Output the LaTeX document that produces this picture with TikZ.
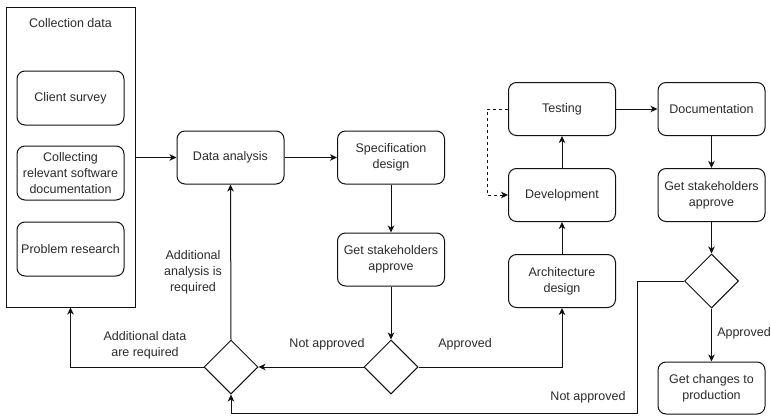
\documentclass[tikz,border=0pt]{standalone}
\usepackage{fontspec}
\setmainfont{Liberation Sans}
\usetikzlibrary{shapes.geometric,arrows.meta}
\definecolor{txt}{HTML}{2A2A2A}
\definecolor{ln}{HTML}{111111}
\begin{document}
\begin{tikzpicture}[x=1pt,y=-1pt,
  every node/.style={font=\fontsize{12.5}{16}\selectfont, text=txt},
  box/.style={draw=ln, line width=1pt, rounded corners=8pt, minimum width=107pt, minimum height=53pt, align=center, inner sep=1pt},
  dia/.style={draw=ln, line width=1pt, diamond, minimum width=54pt, minimum height=54pt, inner sep=0pt},
  lbl/.style={align=center, inner sep=0pt},
  arr/.style={draw=ln, line width=1pt, -{Stealth[length=7pt,width=6.5pt,inset=2pt]}},
  conn/.style={draw=ln, line width=1pt}]
\useasboundingbox (0,0) rectangle (771,415);
% Collection data group
\node[draw=ln, line width=1pt, minimum width=129pt, minimum height=300pt, inner sep=0pt] (outer) at (70.5,157) {};
\node[lbl] (title) at (70.5,23) {Collection data};
\node[box, minimum height=54pt] (client) at (70.5,98) {Client survey};
\node[box, minimum height=54pt] (collect) at (70.5,173) {Collecting\\relevant software\\documentation};
\node[box, minimum height=54pt] (problem) at (70.5,249) {Problem research};
% main flow
\node[box] (data) at (230.5,157.5) {Data analysis};
\node[box] (spec) at (391,157.5) {Specification\\design};
\node[box] (appr1) at (391,259.5) {Get stakeholders\\approve};
\node[dia] (d1) at (391,367) {};
\node[dia] (d2) at (231,367) {};
\node[box] (arch) at (562,281) {Architecture\\design};
\node[box] (dev) at (562,195) {Development};
\node[box] (test) at (562,109) {Testing};
\node[box] (doc) at (711.5,109) {Documentation};
\node[box] (appr2) at (711.5,195) {Get stakeholders\\approve};
\node[dia] (d3) at (711.5,281) {};
\node[box, minimum height=52pt] (prod) at (711.5,388) {Get changes to\\production};
% labels
\node[lbl] (lnap1) at (327,344) {Not approved};
\node[lbl] (lap1) at (465,344) {Approved};
\node[lbl] (lap2) at (744,333) {Approved};
\node[lbl] (lnap2) at (588,397) {Not approved};
\node[lbl] (ladd1) at (193,272) {Additional\\analysis is\\required};
\node[lbl] (ladd2) at (145,345) {Additional data\\are required};
% coordinates
\coordinate (loopc) at (637,413);
\coordinate (dl) at (487,109);
% connectors
\draw[arr] (outer.east |- data.west) -- (data.west);
\draw[arr] (data) -- (spec);
\draw[arr] (spec) -- (appr1);
\draw[arr] (appr1) -- (d1.north);
\draw[arr] (d1.west) -- (d2.east);
\draw[arr] (d1.east) -| (arch.south);
\draw[arr] (arch) -- (dev);
\draw[arr] (dev) -- (test);
\draw[arr] (test) -- (doc);
\draw[arr] (doc) -- (appr2);
\draw[arr] (appr2) -- (d3.north);
\draw[arr] (d3.south) -- (prod.north);
\draw[arr] (d3.west) -| (loopc) -| (d2.south);
\draw[arr] (d2.north) -- (data.south);
\draw[arr] (d2.west) -| (outer.south);
\draw[arr, dashed] (test.west) -- (dl) |- (dev.west);
\end{tikzpicture}
\end{document}
